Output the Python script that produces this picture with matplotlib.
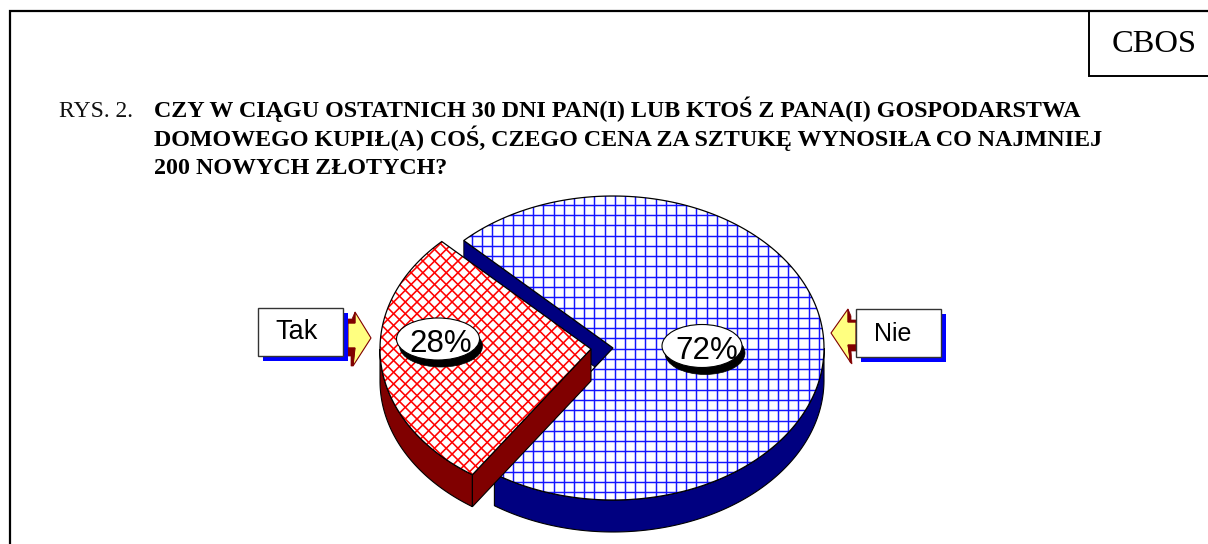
"""
CBOS pie chart, RYS. 2 - pseudo 3D exploded pie drawn by hand in pixel coords.
"""

import numpy as np
import matplotlib
matplotlib.use("Agg")
import matplotlib.pyplot as plt
from matplotlib.patches import Polygon, Ellipse, Rectangle
from matplotlib.collections import LineCollection

# -------- Data --------
categories = ["Tak", "Nie"]
values = [28, 72]
title_lines = [
    "CZY W CIĄGU OSTATNICH 30 DNI PAN(I) LUB KTOŚ Z PANA(I) GOSPODARSTWA",
    "DOMOWEGO KUPIŁ(A) COŚ, CZEGO CENA ZA SZTUKĘ WYNOSIŁA CO NAJMNIEJ",
    "200 NOWYCH ZŁOTYCH?",
]
fig_label = "RYS. 2."
corner_label = "CBOS"

# -------- Pie geometry (pixels) --------
CX, CY = 613, 348
RX, RY = 211, 152
DEPTH = 32
EXPLODE = (-22, 1)
START_ANGLE = 135

NAVY = "#000080"
MAROON = "#800000"
SERIF = "Liberation Serif"
SANS = "Liberation Sans"

fig = plt.figure(figsize=(12.08, 5.44), dpi=100)
ax = fig.add_axes([0, 0, 1, 1])
ax.set_xlim(0, 1208)
ax.set_ylim(544, 0)
ax.axis("off")


def arc(t0, t1, dx=0, dy=0):
    t = np.radians(np.linspace(t0, t1, 200))
    return np.column_stack([CX + dx + RX * np.cos(t), CY + dy - RY * np.sin(t)])


def draw_sector(t0, t1, dx, dy, wall_color, top_zorder):
    top = np.vstack([[CX + dx, CY + dy], arc(t0, t1, dx, dy)])
    # outer wall, only the front half of the ellipse shows
    a0, a1 = max(t0, 180), min(t1, 360)
    if a1 > a0:
        upper = arc(a0, a1, dx, dy)
        lower = arc(a1, a0, dx, dy + DEPTH)
        ax.add_patch(Polygon(np.vstack([upper, lower]), closed=True, fc=wall_color,
                             ec="black", lw=0.8, zorder=top_zorder - 1))
    return top


def hatch_lines(top, segs, color, lw, zorder):
    patch = Polygon(top, closed=True, fc="white", ec="none", zorder=zorder)
    ax.add_patch(patch)
    lc = LineCollection(segs, colors=color, linewidths=lw, zorder=zorder + 0.1)
    ax.add_collection(lc)
    lc.set_clip_path(patch)
    edge = Polygon(top, closed=True, fc="none", ec="black", lw=0.9, zorder=zorder + 0.2)
    ax.add_patch(edge)


angles = 360 * np.array(values) / sum(values)
red_t0, red_t1 = START_ANGLE, START_ANGLE + angles[0]
blue_t0, blue_t1 = red_t1, START_ANGLE + 360

# blue slice
top_blue = draw_sector(blue_t0, blue_t1, 0, 0, NAVY, 3)
p0 = arc(START_ANGLE, START_ANGLE, 0, 0)[0]
ax.add_patch(Polygon([p0, (CX, CY), (CX, CY + DEPTH), (p0[0], p0[1] + DEPTH)], closed=True,
                     fc=NAVY, ec="black", lw=0.6, zorder=2))
blue_segs = [[(x, 180), (x, 520)] for x in np.arange(625 - 10.2 * 17, 840, 10.2)]
blue_segs += [[(390, y), (840, y)] for y in np.arange(287 - 10.27 * 10, 520, 10.27)]
hatch_lines(top_blue, blue_segs, "#1414ff", 1.05, 3)

# red slice
dx, dy = EXPLODE
top_red = draw_sector(red_t0, red_t1, dx, dy, MAROON, 6)
p1 = arc(red_t1, red_t1, dx, dy)[0]
ax.add_patch(Polygon([p1, (CX + dx, CY + dy), (CX + dx, CY + dy + DEPTH), (p1[0], p1[1] + DEPTH)],
                     closed=True, fc=MAROON, ec="black", lw=0.8, zorder=5))
red_segs = []
for c in np.arange(-400, 1400, 11.7):
    red_segs.append([(300, c), (700, c + 400)])
    red_segs.append([(300, c), (700, c - 400)])
hatch_lines(top_red, red_segs, "#ff0000", 1.15, 6)


# -------- Percent bubbles --------
def bubble(cx, cy, w, h, text, tx, base):
    ax.add_patch(Ellipse((cx + 3, cy + 7), w, h, fc="black", ec="black", lw=0.5, zorder=8))
    ax.add_patch(Ellipse((cx, cy), w, h, fc="white", ec="black", lw=0.8, zorder=9))
    ax.text(tx, base, text, ha="center", va="baseline", family=SANS,
            fontsize=22.5, color="black", zorder=10)


bubble(438, 339, 83, 42, f"{values[0]}%", 441, 352)
bubble(702, 346, 80, 43, f"{values[1]}%", 707, 359)


# -------- Callouts --------
def callout(x0, y0, x1, y1, text, fs, maroon_parts, pts_arrow, tx, base):
    ax.add_patch(Polygon(pts_arrow, closed=True, fc="#ffff80", ec=MAROON, lw=0.8, zorder=11))
    for part in maroon_parts:
        ax.add_patch(Polygon(part, closed=True, fc=MAROON, ec=MAROON, lw=0.5, zorder=12))
    ax.add_patch(Rectangle((x0 + 5, y0 + 5), x1 - x0, y1 - y0, fc="#0000ff", ec="none", zorder=13))
    ax.add_patch(Rectangle((x0, y0), x1 - x0, y1 - y0, fc="white", ec="#333333", lw=1.0, zorder=14))
    ax.text(tx, base, text, ha="center", va="baseline", family=SANS,
            fontsize=fs, color="black", zorder=15)


callout(258, 308, 343, 356, categories[0], 19.5,
        [[(348, 319), (352, 319), (355, 312), (355, 323), (348, 323)],
         [(348, 348), (355, 348), (353, 366), (351, 366), (351, 356), (348, 356)]],
        [(348, 323), (355, 323), (355, 312), (371, 338), (353, 366), (355, 348), (348, 348)],
        297, 339)
callout(856, 309, 941, 357, categories[1], 18,
        [[(848, 309), (851, 316), (851, 320), (856, 320), (856, 322), (848, 322)],
         [(848, 345), (856, 345), (856, 351), (851, 351), (852, 364), (850, 362)]],
        [(856, 322), (848, 322), (848, 309), (831, 333), (851, 363), (848, 345), (856, 345)],
        893, 341)

# -------- Frame and text --------
ax.plot([10, 10, 1208], [544, 11, 11], color="black", lw=1.6, solid_joinstyle="miter", zorder=1)
ax.plot([1208, 1088.5, 1088.5], [76, 76, 11], color="black", lw=1.4, solid_joinstyle="miter", zorder=1)
ax.text(1154, 52, corner_label, ha="center", va="baseline", family=SERIF, fontsize=23.4, color="black")
ax.text(59, 116.7, fig_label, ha="left", va="baseline", family=SERIF, fontsize=17, color="#111111")
title_base = [116.7, 146, 174]
for base, line in zip(title_base, title_lines):
    ax.text(154, base, line, ha="left", va="baseline", family=SERIF,
            fontsize=17.3, fontweight="bold", color="black")

plt.savefig("out.png", dpi=100)
plt.close()
